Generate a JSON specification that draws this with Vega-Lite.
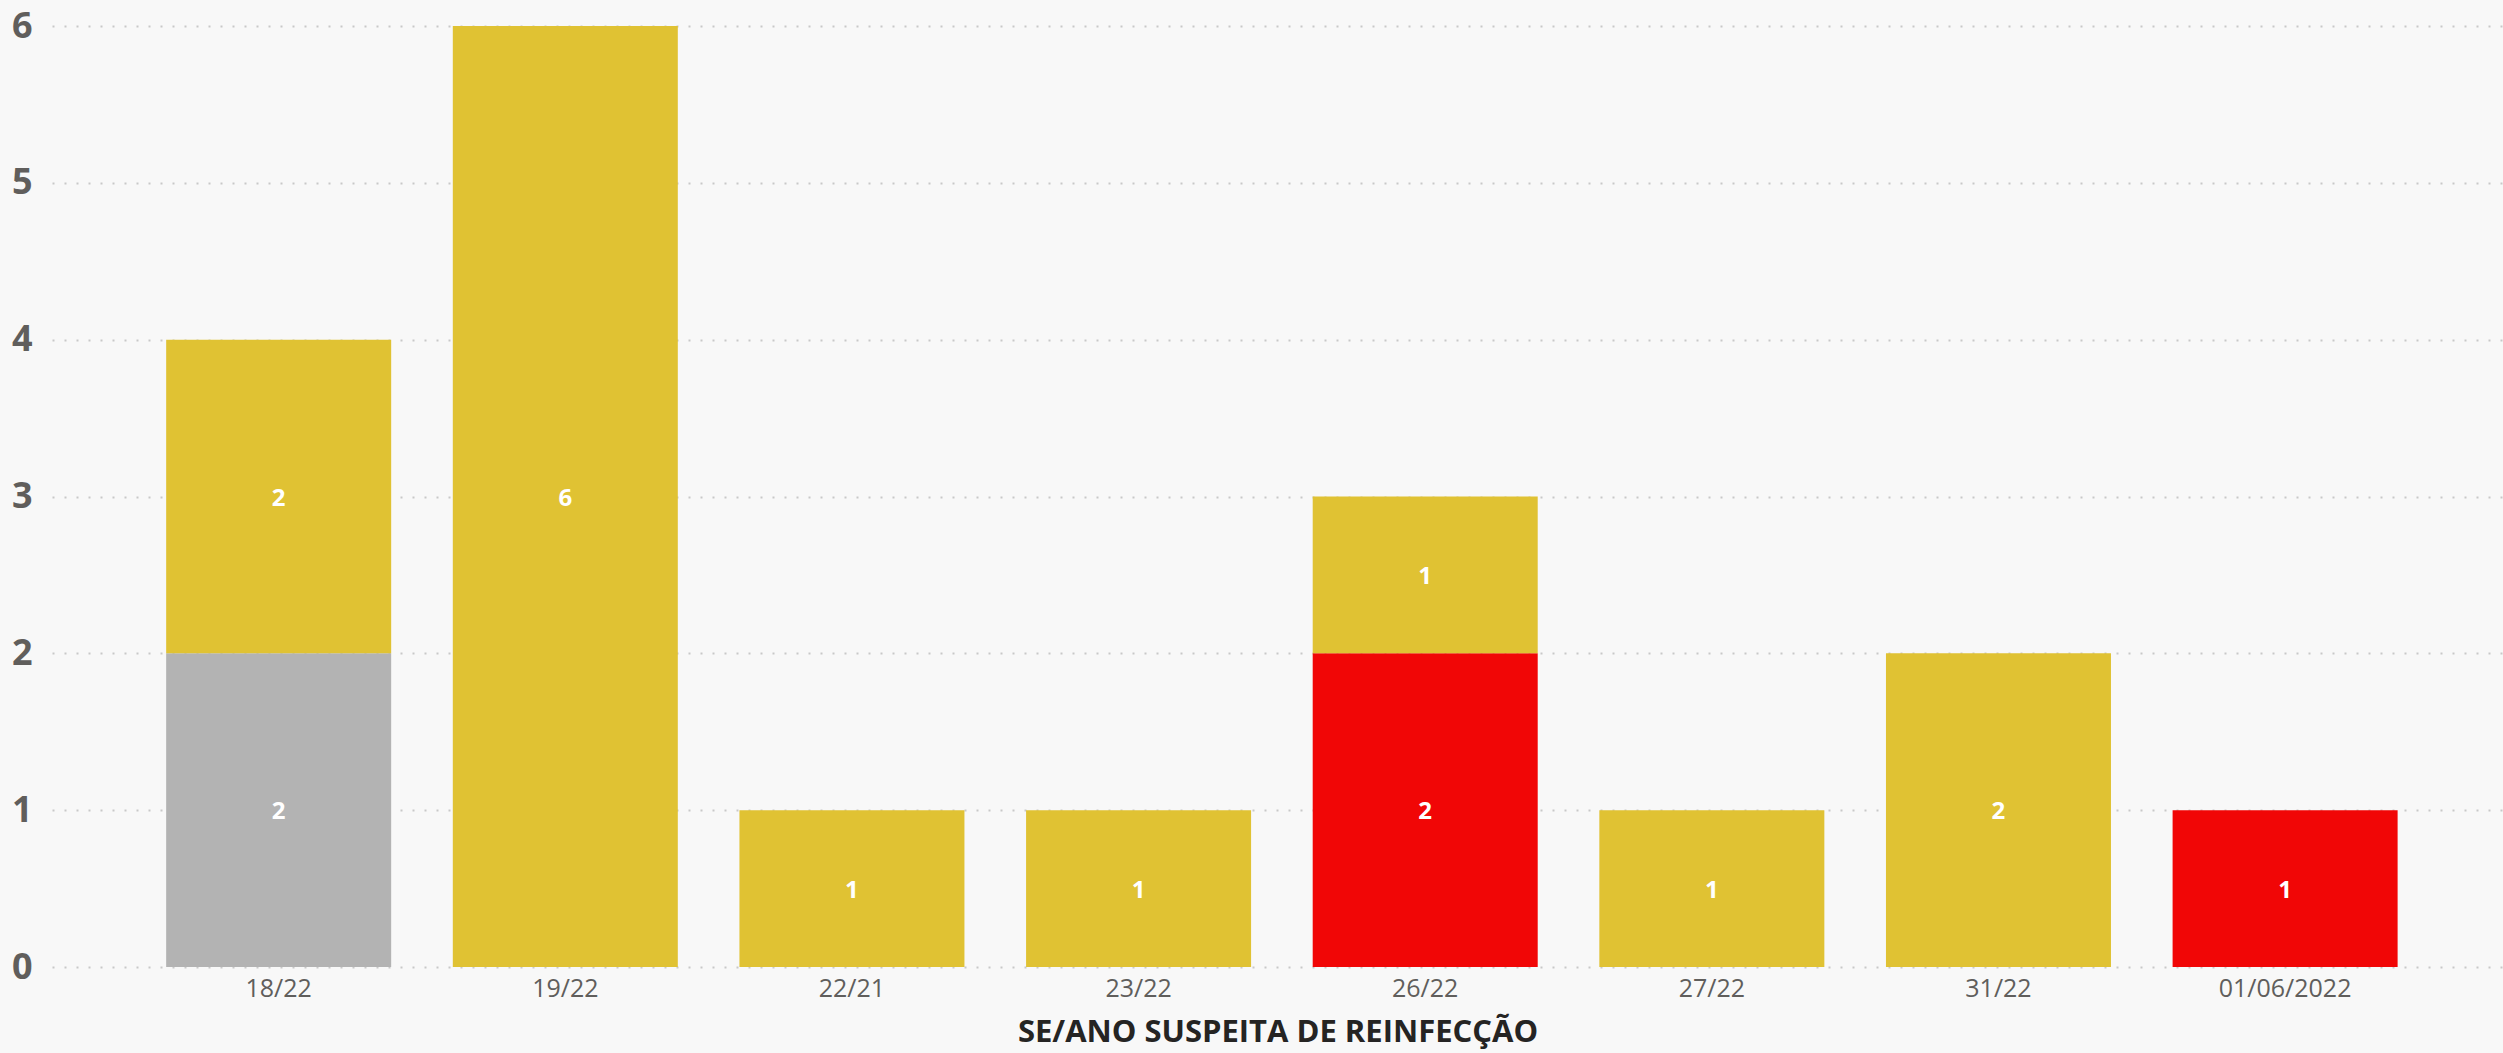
{
  "$schema": "https://vega.github.io/schema/vega-lite/v6.json",
  "width": 2451,
  "height": 941,
  "autosize": {"type": "none"},
  "padding": {"left": 52, "top": 26, "right": 0, "bottom": 86},
  "background": "#F8F8F8",
  "config": {"view": {"stroke": null}, "font": "Open Sans"},
  "data": {
    "values": [
      {"se": "18/22", "status": "Descartado", "ordem": 1, "casos": 2},
      {"se": "18/22", "status": "Em investigação", "ordem": 3, "casos": 2},
      {"se": "19/22", "status": "Em investigação", "ordem": 3, "casos": 6},
      {"se": "22/21", "status": "Em investigação", "ordem": 3, "casos": 1},
      {"se": "23/22", "status": "Em investigação", "ordem": 3, "casos": 1},
      {"se": "26/22", "status": "Confirmado", "ordem": 2, "casos": 2},
      {"se": "26/22", "status": "Em investigação", "ordem": 3, "casos": 1},
      {"se": "27/22", "status": "Em investigação", "ordem": 3, "casos": 1},
      {"se": "31/22", "status": "Em investigação", "ordem": 3, "casos": 2},
      {"se": "01/06/2022", "status": "Confirmado", "ordem": 2, "casos": 1}
    ]
  },
  "encoding": {
    "x": {
      "field": "se",
      "type": "nominal",
      "sort": ["18/22", "19/22", "22/21", "23/22", "26/22", "27/22", "31/22", "01/06/2022"],
      "scale": {"paddingInner": 0.215, "paddingOuter": 0.383, "align": 0.52},
      "axis": {
        "title": "SE/ANO SUSPEITA DE REINFECÇÃO",
        "titleFont": "Open Sans",
        "titleFontSize": 31,
        "titleFontWeight": "bold",
        "titleColor": "#252423",
        "titlePadding": 16,
        "labelAngle": 0,
        "labelFontSize": 25,
        "labelColor": "#605E5C",
        "labelPadding": 9,
        "domain": false,
        "ticks": false,
        "grid": false
      }
    },
    "y": {
      "field": "casos",
      "type": "quantitative",
      "aggregate": "sum",
      "stack": "zero",
      "scale": {"domain": [0, 6], "nice": false},
      "axis": {
        "title": null,
        "values": [0, 1, 2, 3, 4, 5, 6],
        "labelFontSize": 36,
        "labelFontWeight": "bold",
        "labelColor": "#605E5C",
        "labelPadding": 20,
        "domain": false,
        "ticks": false,
        "grid": true,
        "gridColor": "#C8C8C8",
        "gridDash": [2, 10],
        "gridWidth": 2
      }
    },
    "order": {"field": "ordem", "type": "quantitative"}
  },
  "layer": [
    {
      "mark": {"type": "bar"},
      "encoding": {
        "color": {
          "field": "status",
          "type": "nominal",
          "scale": {
            "domain": ["Descartado", "Confirmado", "Em investigação"],
            "range": ["#B3B3B3", "#F10606", "#E0C233"]
          },
          "legend": null
        }
      }
    },
    {
      "mark": {"type": "text", "color": "#FFFFFF", "fontSize": 24, "fontWeight": "bold", "baseline": "middle", "dy": 2},
      "encoding": {
        "y": {"field": "casos", "type": "quantitative", "aggregate": "sum", "stack": "zero", "bandPosition": 0.5},
        "text": {"field": "casos", "type": "quantitative", "aggregate": "sum"}
      }
    }
  ]
}
